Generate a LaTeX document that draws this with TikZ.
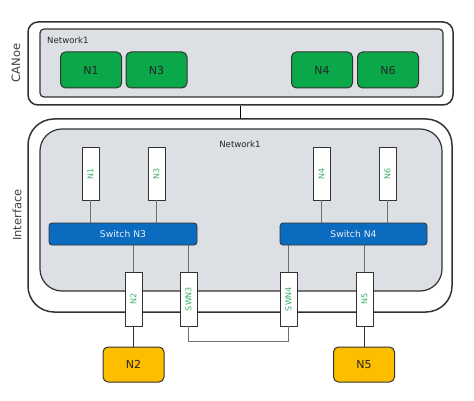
\documentclass[tikz,border=0pt]{standalone}
\usepackage{fontspec}
\setmainfont{DejaVu Sans}
\definecolor{grayfill}{HTML}{DCDFE3}
\definecolor{boxline}{HTML}{333333}
\definecolor{vgreen}{HTML}{0BA84A}
\definecolor{vblue}{HTML}{0B6BBF}
\definecolor{vyellow}{HTML}{FDBE00}
\definecolor{porttext}{HTML}{3DB06B}
\definecolor{conn}{HTML}{707070}
\tikzset{
  outerbox/.style={draw=boxline, line width=1.5pt, fill=white, rounded corners=#1, inner sep=0pt},
  netbox/.style={draw=boxline, line width=1.2pt, fill=grayfill, rounded corners=#1, inner sep=0pt},
  greenbox/.style={draw=boxline, line width=1pt, fill=vgreen, rounded corners=5pt, minimum width=61pt, minimum height=36pt, inner sep=0pt, font=\fontsize{11}{12}\selectfont, text=black!85},
  yellowbox/.style={draw=boxline, line width=1pt, fill=vyellow, rounded corners=5pt, minimum width=61pt, minimum height=35pt, inner sep=0pt, font=\fontsize{11}{12}\selectfont, text=black!85},
  switchbox/.style={draw=boxline, line width=0.8pt, fill=vblue, rounded corners=3pt, minimum height=22pt, inner sep=0pt, font=\fontsize{9.2}{10}\selectfont, text=white!90!vblue},
  portbox/.style={draw=boxline, line width=0.8pt, fill=white, minimum width=17pt, minimum height=#1, inner sep=0pt},
  porttxt/.style={font=\fontsize{8}{9}\selectfont, text=porttext, rotate=90, inner sep=0pt},
  sidelabel/.style={font=\fontsize{11.5}{13}\selectfont, text=black!75, rotate=90, inner sep=0pt},
  netlabel/.style={font=\fontsize{8.6}{9}\selectfont, text=black!85, inner sep=0pt},
  wire/.style={draw=conn, line width=0.7pt},
  mainwire/.style={draw=black, line width=1.4pt}
}
\begin{document}
\begin{tikzpicture}[x=1pt,y=-1pt]
\useasboundingbox (0,0) rectangle (474,401);
% outer boxes
\node[outerbox=10pt, minimum width=425pt, minimum height=83pt] (canoe) at (240.5,63.5) {};
\node[netbox=4pt, minimum width=403pt, minimum height=68pt] (net1) at (241.5,63) {};
\node[outerbox=26pt, minimum width=424pt, minimum height=193pt] (iface) at (240,215.5) {};
\node[netbox=22pt, minimum width=402pt, minimum height=162pt] (net2) at (241,210) {};
\draw[mainwire] (canoe.south) -- (canoe.south |- iface.north);
% labels
\node[sidelabel] (lcanoe) at (16,63) {CANoe};
\node[sidelabel] (liface) at (17,215) {Interface};
\node[netlabel, anchor=west] (lnet1) at (47,40) {Network1};
\node[netlabel] (lnet2) at (240,144) {Network1};
% green nodes
\node[greenbox] (gN1) at (91,70) {N1};
\node[greenbox] (gN3) at (156.5,70) {N3};
\node[greenbox] (gN4) at (322,70) {N4};
\node[greenbox] (gN6) at (388,70) {N6};
% switches
\node[switchbox, minimum width=148pt] (sw3) at (123,234) {Switch N3};
\node[switchbox, minimum width=147pt] (sw4) at (353.5,234) {Switch N4};
% top ports
\node[portbox=53pt] (pN1) at (90.5,173.5) {};
\node[portbox=53pt] (pN3) at (156.5,173.5) {};
\node[portbox=53pt] (pN4) at (321.5,173.5) {};
\node[portbox=53pt] (pN6) at (387.5,173.5) {};
\node[porttxt] (tN1) at (pN1) {N1};
\node[porttxt] (tN3) at (pN3) {N3};
\node[porttxt] (tN4) at (pN4) {N4};
\node[porttxt] (tN6) at (pN6) {N6};
\draw[wire] (pN1.south) -- (pN1.south |- sw3.north);
\draw[wire] (pN3.south) -- (pN3.south |- sw3.north);
\draw[wire] (pN4.south) -- (pN4.south |- sw4.north);
\draw[wire] (pN6.south) -- (pN6.south |- sw4.north);
% bottom ports
\node[portbox=54pt] (pN2) at (133.5,299) {};
\node[portbox=54pt] (pSW3) at (188.5,299) {};
\node[portbox=54pt] (pSW4) at (288.5,299) {};
\node[portbox=54pt] (pN5) at (364.5,299) {};
\node[porttxt] (tN2) at (pN2) {N2};
\node[porttxt] (tSW3) at (pSW3) {SWN3};
\node[porttxt] (tSW4) at (pSW4) {SWN4};
\node[porttxt] (tN5) at (pN5) {N5};
\draw[wire] (sw3.south -| pN2.north) -- (pN2.north);
\draw[wire] (sw3.south -| pSW3.north) -- (pSW3.north);
\draw[wire] (sw4.south -| pSW4.north) -- (pSW4.north);
\draw[wire] (sw4.south -| pN5.north) -- (pN5.north);
\draw[wire] (pSW3.south) -- ++(0,15) -| (pSW4.south);
% yellow nodes
\node[yellowbox] (yN2) at (133.5,364.5) {N2};
\node[yellowbox] (yN5) at (364,364.5) {N5};
\draw[wire, draw=boxline] (pN2.south) -- (pN2.south |- yN2.north);
\draw[wire, draw=boxline] (pN5.south) -- (pN5.south |- yN5.north);
\end{tikzpicture}
\end{document}
